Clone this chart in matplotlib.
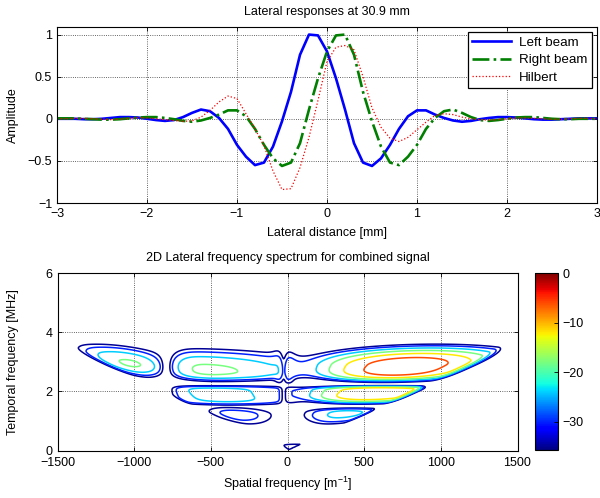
import numpy as np
import matplotlib
matplotlib.use('Agg')
import matplotlib.pyplot as plt
from matplotlib.colors import Normalize
from matplotlib.cm import ScalarMappable

plt.rcParams['font.family'] = ['Liberation Sans', 'DejaVu Sans']
plt.rcParams['font.size'] = 9
plt.rcParams['mathtext.default'] = 'regular'
plt.rcParams['axes.unicode_minus'] = True

# ---------------- top panel data ----------------
lateral_mm = np.linspace(-3.0, 3.0, 61)
left_beam = [0.0, 0.0, 0.0, -0.005, -0.005, 0.0, 0.01, 0.02, 0.02, 0.015, 0.0,
             -0.015, -0.025, -0.015, 0.02, 0.07, 0.11, 0.09, 0.01, -0.12, -0.31,
             -0.45, -0.55, -0.52, -0.33, -0.03, 0.32, 0.76, 1.0, 0.99, 0.80,
             0.48, 0.11, -0.29, -0.52, -0.56, -0.47, -0.31, -0.12, 0.03, 0.10,
             0.10, 0.05, 0.01, -0.02, -0.035, -0.025, -0.005, 0.01, 0.02, 0.02,
             0.015, 0.005, -0.005, -0.01, -0.01, -0.005, 0.0, 0.005, 0.005, 0.005]
right_beam = [0.005, 0.005, 0.005, 0.0, -0.005, -0.01, -0.01, -0.005, 0.005, 0.015,
              0.02, 0.02, 0.01, -0.005, -0.025, -0.035, -0.02, 0.01, 0.05, 0.10,
              0.10, 0.03, -0.12, -0.31, -0.47, -0.56, -0.52, -0.29, 0.11, 0.48,
              0.80, 0.99, 1.0, 0.76, 0.32, -0.03, -0.33, -0.52, -0.55, -0.45,
              -0.31, -0.12, 0.01, 0.09, 0.11, 0.07, 0.02, -0.015, -0.025, -0.015,
              0.0, 0.015, 0.02, 0.02, 0.01, 0.0, -0.005, -0.005, 0.0, 0.0, 0.0]
hilbert = [0.0, 0.0, 0.005, 0.005, 0.0, -0.005, -0.01, -0.005, 0.005, 0.015, 0.01,
           0.0, -0.01, -0.02, -0.03, -0.025, 0.02, 0.10, 0.20, 0.27, 0.24,
           0.06, -0.12, -0.32, -0.62, -0.84, -0.83, -0.58, -0.22, 0.22, 0.68,
           0.85, 0.87, 0.82, 0.50, 0.13, -0.10, -0.23, -0.27, -0.22, -0.13,
           -0.04, 0.04, 0.06, 0.05, 0.02, 0.0, -0.01, -0.015, -0.01, 0.0,
           0.01, 0.01, 0.005, 0.0, -0.005, -0.005, 0.0, 0.005, 0.005, 0.0]
series_labels = ['Left beam', 'Right beam', 'Hilbert']

# ---------------- bottom panel data (spectral lobes, dB) ----------------
# lobes described in (spatial/temporal ratio, temporal frequency) coordinates
lobe_ratio = [269, -189, -346, -239, 289, -275, 294, -9, 250]
lobe_tf = [2.88, 2.70, 2.93, 1.88, 1.93, 1.22, 1.24, 2.80, 0.14]
lobe_peak_db = [-1.5, -16.5, -17.2, -22.0, -6.5, -27.0, -22.0, -27.0, -33.0]
lobe_wl = [230, 200, 90, 414, 276, 240, 310, 50, 1500]
lobe_pl = [2, 2, 2.5, 2, 2, 2, 2, 2, 2]
lobe_wr = [230, 360, 129, 463, 320, 360, 349, 50, 1500]
lobe_pr = [2, 1.8, 2, 2, 2, 2, 2, 2, 2]
lobe_wd = [0.5625, 0.45, 0.63, 0.405, 0.372, 0.62, 0.52, 0.65, 0.4]
lobe_pd = [3.6, 2.5, 2, 4.8, 3, 2, 2, 8, 2]
lobe_wu = [0.677, 0.95, 0.86, 0.354, 0.267, 0.45, 0.26, 1.1, 0.141]
lobe_pu = [2, 2, 2, 6.3, 5, 2, 3, 2, 4]
lobe_nulled = [1, 1, 1, 1, 1, 1, 1, 1, 0]
null_sf = [-790, -25]
null_depth = [0.99999, 0.85]
null_width = [110, 30]
aperture_ratio = 392
aperture_soft = 40
contour_levels = [-35, -30, -24, -18, -12, -6]
cbar_ticks = [-30, -20, -10, 0]

spatial = np.linspace(-1500, 1500, 601)
temporal = np.linspace(0.005, 6, 600)
F, T = np.meshgrid(spatial, temporal)
R = F / T


def side(d, w_neg, p_neg, w_pos, p_pos):
    return np.where(d < 0, np.abs(d / w_neg) ** p_neg, np.abs(d / w_pos) ** p_pos)


lin_nulled = np.zeros_like(F)
lin_free = np.zeros_like(F)
for i in range(len(lobe_ratio)):
    drop = 30 * (side(R - lobe_ratio[i], lobe_wl[i], lobe_pl[i], lobe_wr[i], lobe_pr[i]) +
                 side(T - lobe_tf[i], lobe_wd[i], lobe_pd[i], lobe_wu[i], lobe_pu[i]))
    drop = np.minimum(drop, 300)
    part = 10 ** ((lobe_peak_db[i] - drop) / 10)
    if lobe_nulled[i]:
        lin_nulled += part
    else:
        lin_free += part
for fn, dn, wn in zip(null_sf, null_depth, null_width):
    lin_nulled *= 1 - dn * np.exp(-((F - fn) / wn) ** 2)
db = 10 * np.log10(lin_nulled + lin_free + 1e-30)
db -= 30 * (np.maximum(np.abs(R) - aperture_ratio, 0) / aperture_soft) ** 2

# ---------------- figure ----------------
fig = plt.figure(figsize=(6.0, 4.98), dpi=100)

ax1 = fig.add_axes([57 / 600, 1 - 203 / 498, 540 / 600, 176 / 498])
ax1.plot(lateral_mm, left_beam, color='#0000ff', lw=1.9, ls='-', label=series_labels[0])
ax1.plot(lateral_mm, right_beam, color='#007f00', lw=1.9, ls='-.', label=series_labels[1])
ax1.plot(lateral_mm, hilbert, color='#ff0000', lw=0.9, ls=':', label=series_labels[2])
ax1.set_xlim(-3, 3)
ax1.set_ylim(-1, 1.09)
ax1.set_xticks([-3, -2, -1, 0, 1, 2, 3])
ax1.set_yticks([-1, -0.5, 0, 0.5, 1])
ax1.set_yticklabels(['\u22121', '\u22120.5', '0', '0.5', '1'])
ax1.set_title('Lateral responses at 30.9 mm', fontsize=9, pad=9)
ax1.set_xlabel('Lateral distance [mm]', labelpad=5)
ax1.set_ylabel('Amplitude')
ax1.yaxis.label.set_va('center')
ax1.yaxis.set_label_coords(-0.0815, 0.5)
leg = ax1.legend(loc='upper right', frameon=True, fancybox=False, framealpha=1,
                 edgecolor='black', handlelength=2.9, handletextpad=0.6,
                 labelspacing=0.38, borderaxespad=0.4, borderpad=0.32, fontsize=9.6)
leg.get_frame().set_linewidth(0.9)

ax2 = fig.add_axes([57.5 / 600, 1 - 450.5 / 498, 460 / 600, 177.5 / 498])
norm = Normalize(vmin=-35.7, vmax=0)
ax2.contour(F, T, db, levels=contour_levels, cmap='jet', norm=norm, linewidths=1.1)
ax2.set_xlim(-1500, 1500)
ax2.set_ylim(0, 6)
ax2.set_xticks([-1500, -1000, -500, 0, 500, 1000, 1500])
ax2.set_yticks([0, 2, 4, 6])
ax2.set_title('2D Lateral frequency spectrum for combined signal', fontsize=9, pad=9)
ax2.set_xlabel('Spatial frequency [m$^{-1}$]', labelpad=4)
ax2.set_ylabel('Temporal frequency [MHz]')
ax2.yaxis.label.set_va('center')
ax2.yaxis.set_label_coords(-0.0967, 0.5)

for ax in (ax1, ax2):
    ax.grid(True, ls=':', color='#333333', lw=0.6)
    ax.tick_params(direction='in', top=True, right=True, length=3, width=0.6, labelsize=9)
    for sp in ax.spines.values():
        sp.set_linewidth(0.8)
ax2.tick_params(axis='x', pad=5)

cax = fig.add_axes([535 / 600, 1 - 450 / 498, 23 / 600, 177 / 498])
sm = ScalarMappable(norm=norm, cmap='jet')
cb = fig.colorbar(sm, cax=cax, ticks=cbar_ticks)
cb.ax.tick_params(direction='in', length=3, width=0.6, labelsize=9)
cb.outline.set_linewidth(0.8)

fig.savefig('out.png', dpi=100)
